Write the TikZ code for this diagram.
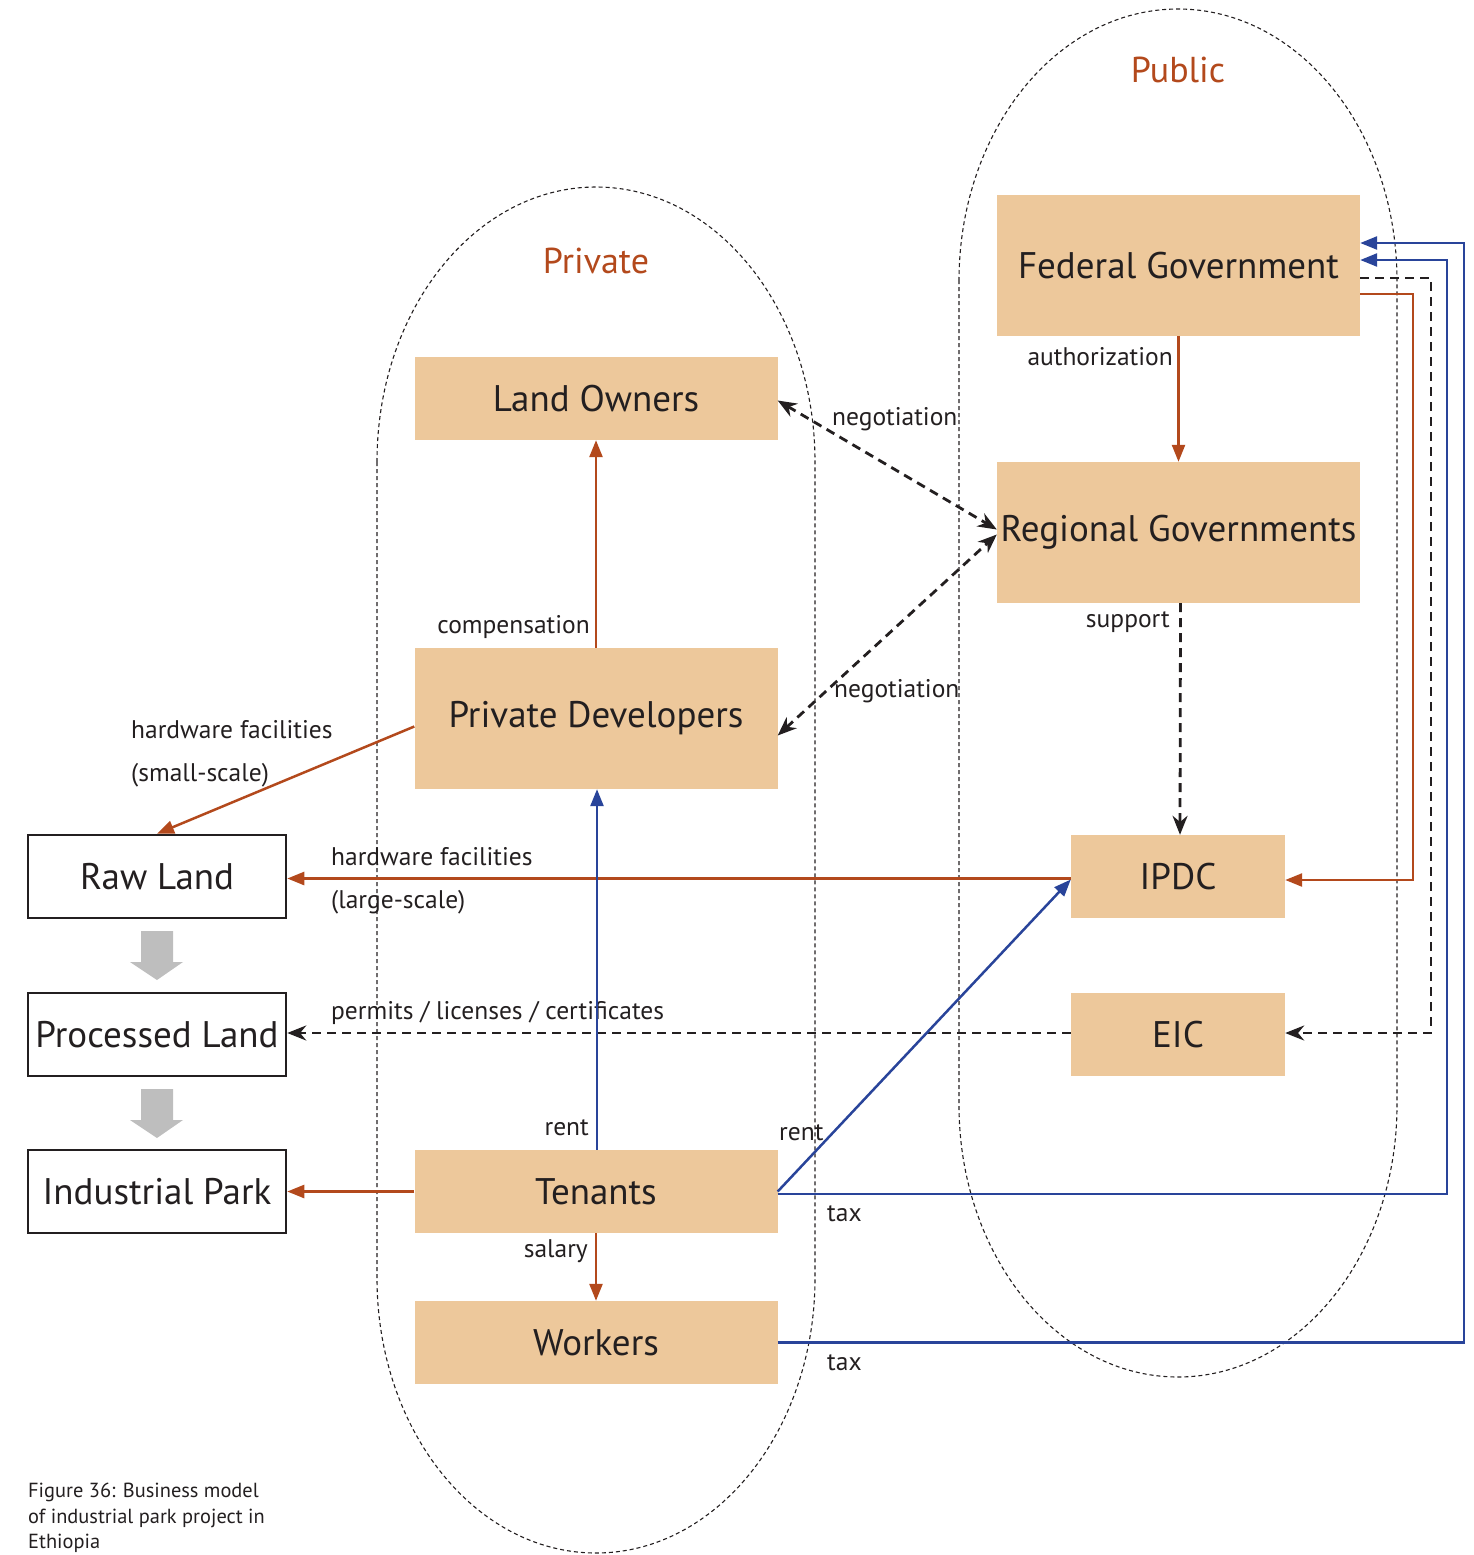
\documentclass[tikz,border=0pt]{standalone}
\usepackage{fontspec}
\setmainfont{PT Sans}
\usetikzlibrary{arrows.meta,calc}
\definecolor{boxfill}{HTML}{EDC89B}
\definecolor{rust}{HTML}{B3491C}
\definecolor{navy}{HTML}{29449A}
\definecolor{ink}{HTML}{231F20}
\definecolor{blockgray}{HTML}{BEBEBE}
\begin{document}
\begin{tikzpicture}[x=1pt,y=-1pt,
  every node/.style={text=ink, inner sep=0pt},
  actor/.style={fill=boxfill, draw=none, minimum width=363pt, minimum height=#1,
    font=\fontsize{37}{41}\selectfont},
  actor/.default=83pt,
  small/.style={fill=boxfill, draw=none, minimum width=214pt, minimum height=83pt,
    font=\fontsize{37}{41}\selectfont},
  stage/.style={fill=white, draw=ink, line width=2.5pt, minimum width=258pt, minimum height=83pt,
    font=\fontsize{37}{41}\selectfont},
  lbl/.style={font=\fontsize{25.5}{29}\selectfont},
  group/.style={font=\fontsize{36}{40}\selectfont, text=rust},
  oval/.style={draw=ink, line width=1.1pt, dash pattern=on 4pt off 3pt},
  flow/.style={draw=rust, line width=2.5pt, -{Triangle[length=17pt,width=13pt]}},
  pay/.style={draw=navy, line width=2.5pt, -{Triangle[length=17pt,width=13pt]}},
  talk/.style={draw=ink, line width=2.8pt, dash pattern=on 9pt off 6pt,
    -{Stealth[length=19pt,width=15pt]}},
  talk2/.style={talk, {Stealth[length=19pt,width=15pt]}-{Stealth[length=19pt,width=15pt]}},
  stepdown/.style={fill=blockgray, draw=none}
]
\useasboundingbox (0,0) rectangle (1474,1555);
\clip (0,0) rectangle (1474,1555);

% group outlines
\draw[oval] (377,462) arc[start angle=180, end angle=0, x radius=219pt, y radius=275pt]
  -- (815,1278) arc[start angle=0, end angle=-180, x radius=219pt, y radius=275pt] -- cycle;
\draw[oval] (959,281) arc[start angle=180, end angle=0, x radius=219pt, y radius=272pt]
  -- (1397,1105) arc[start angle=0, end angle=-180, x radius=219pt, y radius=272pt] -- cycle;

\node[group] (pubt) at (1178,70) {Public};
\node[group] (privt) at (596,261) {Private};

% public actors
\node[actor=141pt] (fg) at (1178.5,265.5) {Federal Government};
\node[actor=141pt] (rg) at (1178.5,532.5) {Regional Governments};
\node[small] (ipdc) at (1178,876.5) {IPDC};
\node[small] (eic) at (1178,1034.5) {EIC};

% private actors
\node[actor] (lo) at (596,398.5) {Land Owners};
\node[actor=141pt] (pd) at (596,718.5) {Private Developers};
\node[actor] (tn) at (596,1191.5) {Tenants};
\node[actor] (wk) at (596,1342.5) {Workers};

% land stages
\node[stage] (raw) at (157,876.5) {Raw Land};
\node[stage] (proc) at (157,1034.5) {Processed Land};
\node[stage] (park) at (157,1191.5) {Industrial Park};

% block arrows between stages
\fill[stepdown] (141,931) -- (173,931) -- (173,962) -- (183,962) -- (157,980) -- (130,962) -- (141,962) -- cycle;
\fill[stepdown] (141,1089) -- (173,1089) -- (173,1120) -- (183,1120) -- (157,1138) -- (130,1120) -- (141,1120) -- cycle;

% government chain
\draw[flow] (fg.south) -- (rg.north);
\node[lbl, anchor=east] (auth) at (1173,357) {authorization};
\draw[talk] ([xshift=2pt]rg.south) -- ([xshift=2pt]ipdc.north);
\node[lbl, anchor=east] (supp) at (1170,622) {support};

% negotiation
\draw[talk2] ([yshift=-2pt]lo.east) -- ([yshift=3pt]rg.west);
\node[lbl, anchor=west] (neg1) at (832,419) {negotiation};
\draw[talk2] ([yshift=-17pt]pd.east) -- ([yshift=-2pt]rg.west);
\node[lbl, anchor=west] (neg2) at (834,691) {negotiation};

% developers
\draw[flow] (pd.north) -- (lo.south);
\node[lbl, anchor=east] (comp) at (590,627) {compensation};
\draw[flow] ([yshift=-8pt]pd.west) -- (raw.north);
\node[lbl, anchor=west] (hw1) at (131,730) {hardware facilities};
\node[lbl, anchor=west] (hw1b) at (131,775) {(small-scale)};

% IPDC and EIC to land stages
\draw[flow] ([yshift=-2pt]ipdc.west) -- ([yshift=-2pt]raw.east);
\node[lbl, anchor=west] (hw2) at (331,857) {hardware facilities};
\node[lbl, anchor=west] (hw2b) at (331,902) {(large-scale)};
\draw[talk] ([yshift=1.5pt]eic.west) -- ([yshift=1.5pt]proc.east);
\node[lbl, anchor=west] (perm) at (331,1013) {permits / licenses / certificates};

% tenants
\draw[pay] ([xshift=1pt]tn.north) -- ([xshift=1pt]pd.south);
\node[lbl, anchor=east] (rent1) at (589,1128) {rent};
\draw[pay] (tn.east) -- ([yshift=-3pt]ipdc.west);
\node[lbl, anchor=west] (rent2) at (779,1133) {rent};
\draw[flow] (tn.west) -- (park.east);
\draw[flow] (tn.south) -- (wk.north);
\node[lbl, anchor=east] (sal) at (588,1251) {salary};

% taxes to federal government
\draw[pay] ([yshift=-2.5pt]tn.east) -| (1447,260) -- ([yshift=5.5pt]fg.east);
\node[lbl, anchor=west] (tax1) at (827,1214) {tax};
\draw[pay] (wk.east) -| (1464,243) -- ([yshift=22.5pt]fg.east);
\node[lbl, anchor=west] (tax2) at (827,1363) {tax};

% federal government to agencies
\draw[talk] ([yshift=-12.5pt]fg.east) -| (1431,1033) -- ([yshift=1.5pt]eic.east);
\draw[flow] ([yshift=-28.5pt]fg.east) -| (1413,880) -- ([yshift=-3.5pt]ipdc.east);

% caption
\node[anchor=north west, align=left, font=\fontsize{20.4}{25.5}\selectfont] (cap) at (28,1483)
  {Figure 36: Business model\\of industrial park project in\\Ethiopia};
\end{tikzpicture}
\end{document}
